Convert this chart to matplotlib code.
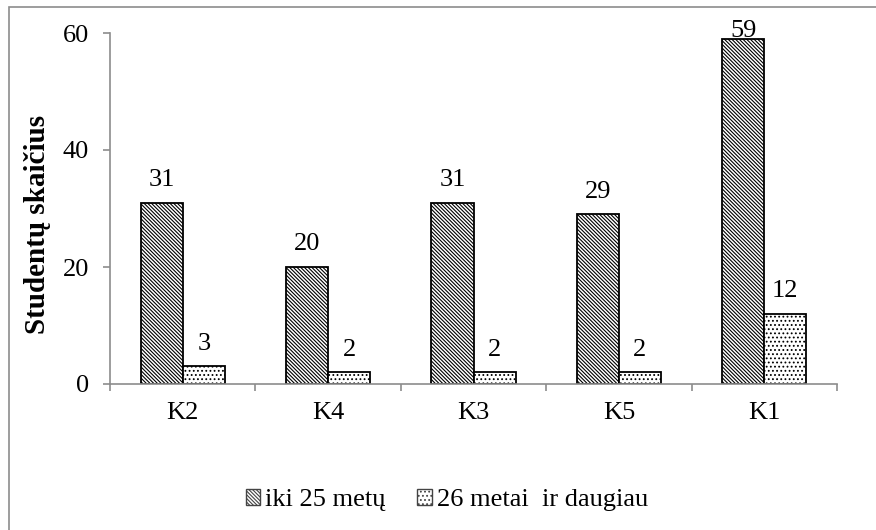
import numpy as np
import matplotlib
matplotlib.use('Agg')
import matplotlib.pyplot as plt
from matplotlib.patches import Rectangle, Patch

plt.rcParams['font.family'] = ['Liberation Serif', 'DejaVu Serif']
plt.rcParams['hatch.linewidth'] = 0.8

categories = ['K2', 'K4', 'K3', 'K5', 'K1']
young = [31, 20, 31, 29, 59]
older = [3, 2, 2, 2, 12]
series_names = ['iki 25 metų', '26 metai  ir daugiau']

W, H = 876, 530
fs = 19
fig = plt.figure(figsize=(W / 100, H / 100), dpi=100)
ax = fig.add_axes([110 / W, 1 - 384 / H, (837 - 110) / W, (384 - 33) / H])

# outer frame (only left/top visible in the original)
fig.patches.append(Rectangle((9 / W, -0.05), 1.2, 1 - 7 / H + 0.05,
                             transform=fig.transFigure, fill=False,
                             edgecolor='#8c8c8c', linewidth=1.2, clip_on=False))

x = np.arange(len(categories))
w = 0.29
hatch1 = '\\' * 9
hatch2 = '....'
b1 = ax.bar(x - w / 2, young, w, facecolor='white', edgecolor='black',
            hatch=hatch1, linewidth=1.3)
b2 = ax.bar(x + w / 2, older, w, facecolor='white', edgecolor='black',
            hatch=hatch2, linewidth=1.3)

for bars, vals in [(b1, young), (b2, older)]:
    for rect, v in zip(bars, vals):
        off = 12 if v < 55 else 1.5
        ax.annotate(str(v), (rect.get_x() + rect.get_width() / 2, v),
                    xytext=(0, off), textcoords='offset points',
                    ha='center', va='baseline', fontsize=fs)

ax.set_xlim(-0.5, len(categories) - 0.5)
ax.set_ylim(0, 60)
ax.set_yticks([0, 20, 40, 60])
ax.set_xticks(x)
ax.set_xticklabels(categories, fontsize=fs)
ax.set_xticks(np.arange(len(categories) + 1) - 0.5, minor=True)
ax.tick_params(axis='x', which='major', length=0, pad=13)
ax.tick_params(axis='x', which='minor', length=5, width=1.2, color='#8c8c8c')
ax.tick_params(axis='y', length=5, width=1.2, color='#8c8c8c', labelsize=fs, pad=10)

for s in ['top', 'right']:
    ax.spines[s].set_visible(False)
for s in ['left', 'bottom']:
    ax.spines[s].set_color('#8c8c8c')
    ax.spines[s].set_linewidth(1.2)

ax.set_ylabel('Studentų skaičius', fontsize=21, fontweight='bold')
ax.yaxis.set_label_coords(-59 / (837 - 110), 0.456)

handles = [Patch(facecolor='white', edgecolor='#444444', hatch=hatch1, linewidth=1.0),
           Patch(facecolor='white', edgecolor='#444444', hatch=hatch2, linewidth=1.0)]
fig.legend(handles, series_names, loc='center', bbox_to_anchor=(447 / W, 1 - 500 / H),
           ncol=2, frameon=False, fontsize=fs, handlelength=0.55, handleheight=0.55,
           handletextpad=0.2, columnspacing=1.2)

fig.savefig('out.png', dpi=100)
